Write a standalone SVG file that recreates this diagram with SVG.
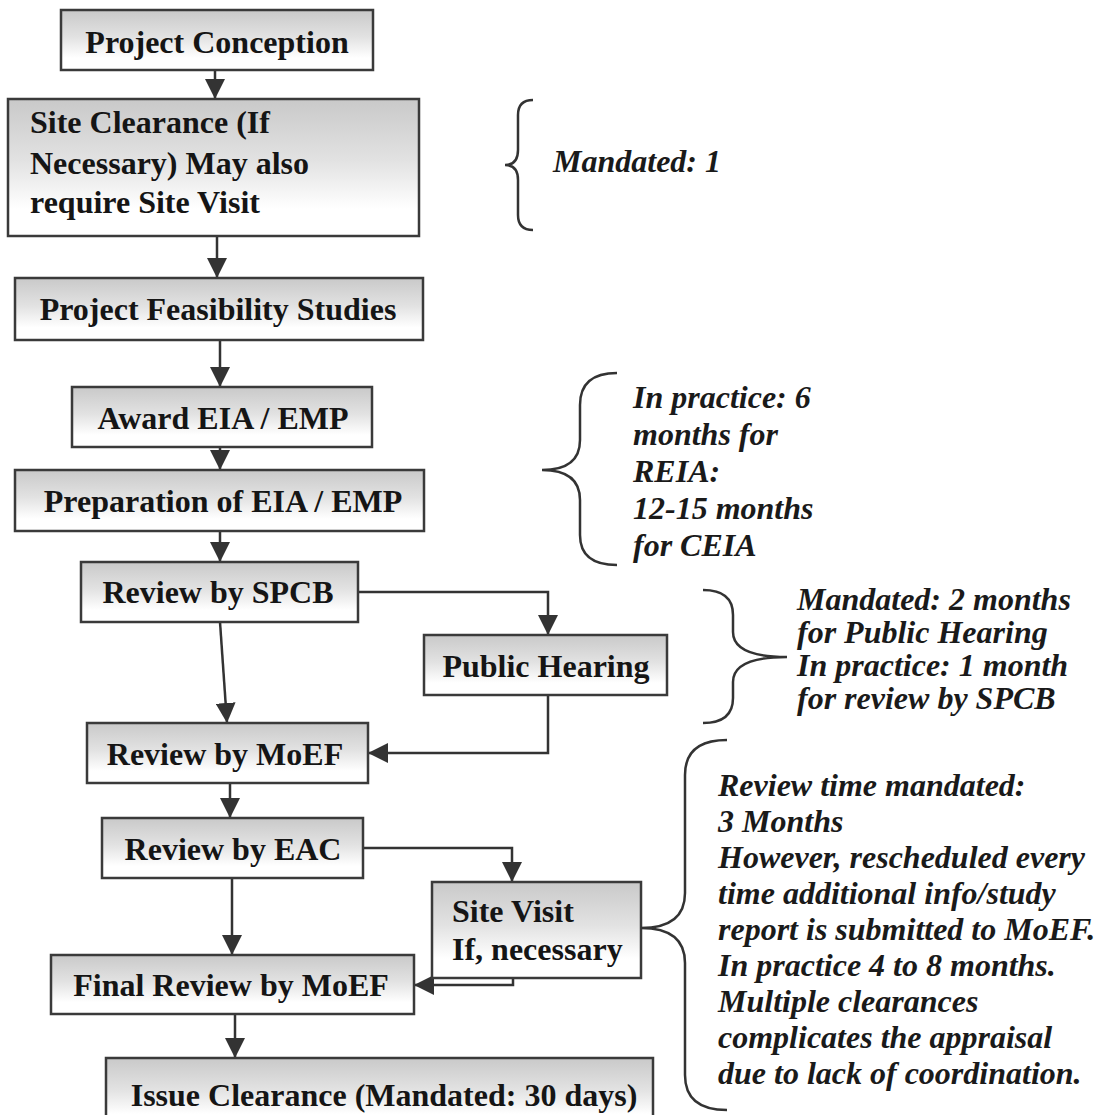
<svg xmlns="http://www.w3.org/2000/svg" width="1109" height="1115" viewBox="0 0 1109 1115">
<defs>
<linearGradient id="boxfill" x1="0" y1="0" x2="0" y2="1">
<stop offset="0" stop-color="#c9c9c9"/>
<stop offset="0.45" stop-color="#e2e2e2"/>
<stop offset="0.8" stop-color="#ffffff"/>
</linearGradient>
<marker id="arr" markerUnits="userSpaceOnUse" markerWidth="20" markerHeight="20" refX="20" refY="10" orient="auto">
<path d="M0,0 L20,10 L0,20 Z" fill="#333"/>
</marker>
<style>
.box{fill:url(#boxfill);stroke:#3a3a3a;stroke-width:2.5}
.bt{font-family:"Liberation Serif","Times New Roman",serif;font-weight:bold;font-size:32px;fill:#151515}
.it{font-family:"Liberation Serif","Times New Roman",serif;font-weight:bold;font-style:italic;font-size:32px;fill:#1a1a1a}
.c{text-anchor:middle}
.con{fill:none;stroke:#333;stroke-width:2.5;marker-end:url(#arr)}
.brace{fill:none;stroke:#333;stroke-width:2.5}
</style>
</defs>
<rect width="1109" height="1115" fill="#ffffff"/>

<g id="connectors">
<path class="con" d="M215,70 V99"/>
<path class="con" d="M217,236 V278"/>
<path class="con" d="M220,340 V387"/>
<path class="con" d="M220,447 V470"/>
<path class="con" d="M220,531 V562"/>
<path class="con" d="M220,622 L227,723"/>
<path class="con" d="M358,592 H548 V635"/>
<path class="con" d="M548,695 V753 H368"/>
<path class="con" d="M230,783 V818"/>
<path class="con" d="M363,848 H512 V882"/>
<path class="con" d="M232,878 V955"/>
<path class="con" d="M513,955 V985 H414"/>
<path class="con" d="M235,1014 V1058"/>
</g>

<g id="n-project-conception">
<rect class="box" x="61" y="10" width="312" height="60"/>
<text class="bt c" x="217" y="53">Project Conception</text>
</g>
<g id="n-site-clearance">
<rect class="box" x="8" y="99" width="411" height="137"/>
<text class="bt" x="30" y="133">Site Clearance (If</text>
<text class="bt" x="30" y="174">Necessary) May also</text>
<text class="bt" x="30" y="213">require Site Visit</text>
</g>
<g id="n-feasibility">
<rect class="box" x="15" y="278" width="408" height="62"/>
<text class="bt c" x="218" y="320">Project Feasibility Studies</text>
</g>
<g id="n-award">
<rect class="box" x="72" y="387" width="300" height="60"/>
<text class="bt c" x="223" y="429">Award EIA / EMP</text>
</g>
<g id="n-preparation">
<rect class="box" x="15" y="470" width="409" height="61"/>
<text class="bt c" x="223" y="512">Preparation of EIA / EMP</text>
</g>
<g id="n-spcb">
<rect class="box" x="81" y="562" width="277" height="60"/>
<text class="bt c" x="218" y="603">Review by SPCB</text>
</g>
<g id="n-public-hearing">
<rect class="box" x="424" y="635" width="243" height="60"/>
<text class="bt c" x="546" y="677">Public Hearing</text>
</g>
<g id="n-moef">
<rect class="box" x="87" y="723" width="281" height="60"/>
<text class="bt c" x="225" y="765">Review by MoEF</text>
</g>
<g id="n-eac">
<rect class="box" x="102" y="818" width="261" height="60"/>
<text class="bt c" x="233" y="860">Review by EAC</text>
</g>
<g id="n-site-visit">
<rect class="box" x="432" y="882" width="209" height="96"/>
<text class="bt" x="452" y="922">Site Visit</text>
<text class="bt" x="452" y="960">If, necessary</text>
</g>
<g id="n-final-review">
<rect class="box" x="51" y="955" width="363" height="59"/>
<text class="bt c" x="231" y="996">Final Review by MoEF</text>
</g>
<g id="n-issue-clearance">
<rect class="box" x="106" y="1058" width="547" height="70"/>
<text class="bt c" x="384" y="1106">Issue Clearance (Mandated: 30 days)</text>
</g>

<g id="annotations">
<path class="brace" d="M533,100 Q518,100 518,115 L518,150 Q518,165 505,165 Q518,165 518,180 L518,215 Q518,230 533,230"/>
<text class="it" x="553" y="172">Mandated: 1</text>

<path class="brace" d="M617,373 Q580,373 580,405 L580,440 Q580,470 542,470 Q580,470 580,500 L580,535 Q580,565 617,565"/>
<text class="it" x="633" y="408">In practice: 6</text>
<text class="it" x="633" y="445">months for</text>
<text class="it" x="633" y="482">REIA:</text>
<text class="it" x="633" y="519">12-15 months</text>
<text class="it" x="633" y="556">for CEIA</text>

<path class="brace" d="M703,590 Q733,590 733,615 L733,632 Q733,657 787,657 Q733,657 733,682 L733,698 Q733,723 703,723"/>
<text class="it" x="797" y="610">Mandated: 2 months</text>
<text class="it" x="797" y="643">for Public Hearing</text>
<text class="it" x="797" y="676">In practice: 1 month</text>
<text class="it" x="797" y="709">for review by SPCB</text>

<path class="brace" d="M727,740 Q685,740 685,775 L685,893 Q685,928 641,928 Q685,928 685,963 L685,1075 Q685,1110 727,1110"/>
<text class="it" x="718" y="796">Review time mandated:</text>
<text class="it" x="718" y="832">3 Months</text>
<text class="it" x="718" y="868">However, rescheduled every</text>
<text class="it" x="718" y="904">time additional info/study</text>
<text class="it" x="718" y="940">report is submitted to MoEF.</text>
<text class="it" x="718" y="976">In practice 4 to 8 months.</text>
<text class="it" x="718" y="1012">Multiple clearances</text>
<text class="it" x="718" y="1048">complicates the appraisal</text>
<text class="it" x="718" y="1084">due to lack of coordination.</text>
</g>
</svg>
